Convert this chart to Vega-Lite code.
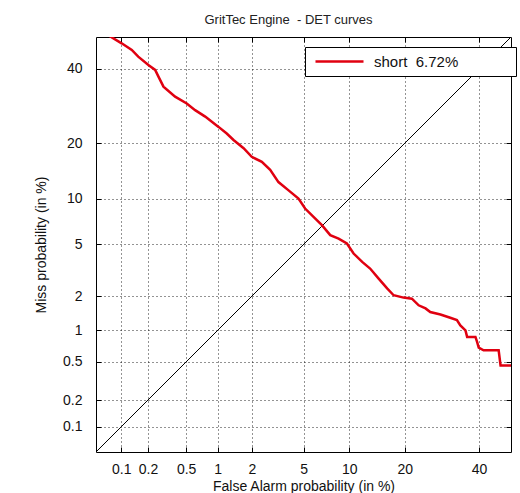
{
  "$schema": "https://vega.github.io/schema/vega-lite/v6.json",
  "width": 415,
  "height": 415,
  "autosize": {"type": "none"},
  "padding": {"left": 96, "top": 37, "right": 9, "bottom": 41},
  "background": "#ffffff",
  "title": {
    "text": "GritTec Engine\u00a0 - DET curves",
    "font": "Liberation Sans",
    "fontSize": 13,
    "fontWeight": "normal",
    "color": "#222222",
    "offset": 10,
    "anchor": "middle",
    "dx": -15
  },
  "config": {
    "view": {"stroke": "#000000", "strokeWidth": 1},
    "axis": {
      "labelFont": "Liberation Sans",
      "labelFontSize": 14,
      "labelColor": "#111111",
      "titleFont": "Liberation Sans",
      "titleFontSize": 14,
      "titleFontWeight": "normal",
      "titleColor": "#111111",
      "tickColor": "#000000",
      "tickSize": -5,
      "domain": false,
      "labelOverlap": false,
      "labelFlush": false,
      "gridColor": "#000000",
      "gridDash": [1, 3],
      "gridOpacity": 0.85
    }
  },
  "datasets": {
    "det": [
      {"fa": 0.066, "miss": 51, "series": "short\u00a0\u00a06.72%"},
      {"fa": 0.101, "miss": 48.0, "series": "short\u00a0\u00a06.72%"},
      {"fa": 0.132, "miss": 45.9, "series": "short\u00a0\u00a06.72%"},
      {"fa": 0.156, "miss": 43.8, "series": "short\u00a0\u00a06.72%"},
      {"fa": 0.202, "miss": 41.2, "series": "short\u00a0\u00a06.72%"},
      {"fa": 0.239, "miss": 39.7, "series": "short\u00a0\u00a06.72%"},
      {"fa": 0.26, "miss": 37.6, "series": "short\u00a0\u00a06.72%"},
      {"fa": 0.293, "miss": 34.7, "series": "short\u00a0\u00a06.72%"},
      {"fa": 0.387, "miss": 31.8, "series": "short\u00a0\u00a06.72%"},
      {"fa": 0.507, "miss": 29.9, "series": "short\u00a0\u00a06.72%"},
      {"fa": 0.613, "miss": 28.1, "series": "short\u00a0\u00a06.72%"},
      {"fa": 0.766, "miss": 26.4, "series": "short\u00a0\u00a06.72%"},
      {"fa": 1.02, "miss": 23.8, "series": "short\u00a0\u00a06.72%"},
      {"fa": 1.21, "miss": 22.2, "series": "short\u00a0\u00a06.72%"},
      {"fa": 1.39, "miss": 20.7, "series": "short\u00a0\u00a06.72%"},
      {"fa": 1.70, "miss": 18.9, "series": "short\u00a0\u00a06.72%"},
      {"fa": 1.99, "miss": 17.1, "series": "short\u00a0\u00a06.72%"},
      {"fa": 2.41, "miss": 16.1, "series": "short\u00a0\u00a06.72%"},
      {"fa": 2.81, "miss": 14.6, "series": "short\u00a0\u00a06.72%"},
      {"fa": 3.26, "miss": 12.5, "series": "short\u00a0\u00a06.72%"},
      {"fa": 3.89, "miss": 11.2, "series": "short\u00a0\u00a06.72%"},
      {"fa": 4.60, "miss": 10.0, "series": "short\u00a0\u00a06.72%"},
      {"fa": 5.13, "miss": 8.69, "series": "short\u00a0\u00a06.72%"},
      {"fa": 5.87, "miss": 7.69, "series": "short\u00a0\u00a06.72%"},
      {"fa": 6.69, "miss": 6.79, "series": "short\u00a0\u00a06.72%"},
      {"fa": 7.59, "miss": 5.81, "series": "short\u00a0\u00a06.72%"},
      {"fa": 8.58, "miss": 5.50, "series": "short\u00a0\u00a06.72%"},
      {"fa": 9.66, "miss": 5.08, "series": "short\u00a0\u00a06.72%"},
      {"fa": 10.6, "miss": 4.30, "series": "short\u00a0\u00a06.72%"},
      {"fa": 11.9, "miss": 3.73, "series": "short\u00a0\u00a06.72%"},
      {"fa": 13.2, "miss": 3.32, "series": "short\u00a0\u00a06.72%"},
      {"fa": 14.7, "miss": 2.77, "series": "short\u00a0\u00a06.72%"},
      {"fa": 16.3, "miss": 2.31, "series": "short\u00a0\u00a06.72%"},
      {"fa": 17.6, "miss": 2.03, "series": "short\u00a0\u00a06.72%"},
      {"fa": 19.7, "miss": 1.94, "series": "short\u00a0\u00a06.72%"},
      {"fa": 21.6, "miss": 1.90, "series": "short\u00a0\u00a06.72%"},
      {"fa": 23.2, "miss": 1.67, "series": "short\u00a0\u00a06.72%"},
      {"fa": 24.9, "miss": 1.57, "series": "short\u00a0\u00a06.72%"},
      {"fa": 26.1, "miss": 1.46, "series": "short\u00a0\u00a06.72%"},
      {"fa": 28.8, "miss": 1.39, "series": "short\u00a0\u00a06.72%"},
      {"fa": 31.5, "miss": 1.30, "series": "short\u00a0\u00a06.72%"},
      {"fa": 33.4, "miss": 1.24, "series": "short\u00a0\u00a06.72%"},
      {"fa": 34.4, "miss": 1.11, "series": "short\u00a0\u00a06.72%"},
      {"fa": 35.9, "miss": 1.00, "series": "short\u00a0\u00a06.72%"},
      {"fa": 36.4, "miss": 0.87, "series": "short\u00a0\u00a06.72%"},
      {"fa": 38.9, "miss": 0.87, "series": "short\u00a0\u00a06.72%"},
      {"fa": 39.4, "miss": 0.78, "series": "short\u00a0\u00a06.72%"},
      {"fa": 39.9, "miss": 0.69, "series": "short\u00a0\u00a06.72%"},
      {"fa": 41.4, "miss": 0.65, "series": "short\u00a0\u00a06.72%"},
      {"fa": 46.1, "miss": 0.65, "series": "short\u00a0\u00a06.72%"},
      {"fa": 46.7, "miss": 0.46, "series": "short\u00a0\u00a06.72%"},
      {"fa": 50.5, "miss": 0.46, "series": "short\u00a0\u00a06.72%"}
    ],
    "diag": [
      {"fa": 0.05, "miss": 0.05},
      {"fa": 50, "miss": 50}
    ]
  },
  "layer": [
    {
      "data": {"name": "diag"},
      "transform": [
        {"calculate": "quantileNormal(datum.fa / 100)", "as": "zx"},
        {"calculate": "quantileNormal(datum.miss / 100)", "as": "zy"}
      ],
      "mark": {"type": "line", "color": "#000000", "strokeWidth": 1, "clip": true},
      "encoding": {
        "x": {
          "field": "zx", "type": "quantitative",
          "scale": {"domain": [-3.2905, 0], "nice": false, "zero": false},
          "axis": {
            "orient": "top", "title": null, "labels": false, "grid": false,
            "values": [-3.0902, -2.8782, -2.5758, -2.3263, -2.0537, -1.6449, -1.2816, -0.8416, -0.2533]
          }
        },
        "y": {
          "field": "zy", "type": "quantitative",
          "scale": {"domain": [-3.2905, 0], "nice": false, "zero": false},
          "axis": {
            "orient": "right", "title": null, "labels": false, "grid": false,
            "values": [-3.0902, -2.8782, -2.5758, -2.3263, -2.0537, -1.6449, -1.2816, -0.8416, -0.2533]
          }
        }
      }
    },
    {
      "data": {"name": "det"},
      "transform": [
        {"calculate": "quantileNormal(datum.fa / 100)", "as": "zx"},
        {"calculate": "quantileNormal(datum.miss / 100)", "as": "zy"}
      ],
      "mark": {"type": "line", "strokeWidth": 2.5, "clip": true},
      "encoding": {
        "x": {
          "field": "zx", "type": "quantitative",
          "scale": {"domain": [-3.2905, 0], "nice": false, "zero": false},
          "axis": {
            "orient": "bottom",
            "title": "False Alarm probability (in %)",
            "grid": true,
            "values": [-3.0902, -2.8782, -2.5758, -2.3263, -2.0537, -1.6449, -1.2816, -0.8416, -0.2533],
            "labelExpr": "format(cumulativeNormal(datum.value) * 100, '.1~r')",
            "labelPadding": 15,
            "titlePadding": 3
          }
        },
        "y": {
          "field": "zy", "type": "quantitative",
          "scale": {"domain": [-3.2905, 0], "nice": false, "zero": false},
          "axis": {
            "orient": "left",
            "title": "Miss probability (in %)",
            "grid": true,
            "values": [-3.0902, -2.8782, -2.5758, -2.3263, -2.0537, -1.6449, -1.2816, -0.8416, -0.2533],
            "labelExpr": "format(cumulativeNormal(datum.value) * 100, '.1~r')",
            "labelPadding": 19,
            "titlePadding": 14
          }
        },
        "color": {
          "field": "series", "type": "nominal",
          "scale": {"range": ["#e00010"]},
          "legend": {
            "title": null,
            "orient": "none",
            "legendX": 209,
            "legendY": 10,
            "symbolType": "M-3.43,0H3.43M23.6,0",
            "symbolSize": 196,
            "symbolStrokeWidth": 2.5,
            "symbolOffset": 20,
            "strokeColor": "#000000",
            "fillColor": "#ffffff",
            "padding": 6,
            "labelFont": "Liberation Sans",
            "labelFontSize": 15,
            "labelColor": "#111111",
            "labelOffset": 26,
            "labelLimit": 0
          }
        }
      }
    }
  ],
  "resolve": {"axis": {"x": "independent", "y": "independent"}}
}
